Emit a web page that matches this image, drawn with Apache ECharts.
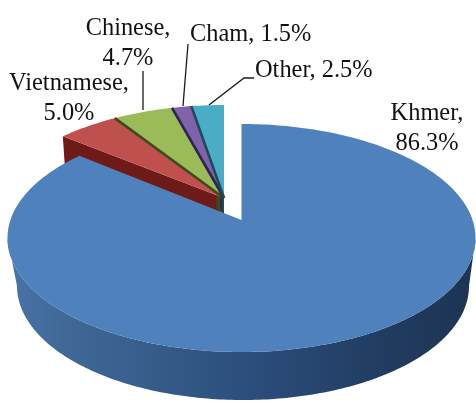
<!DOCTYPE html>
<html><head><meta charset="utf-8">
<style>html,body{margin:0;padding:0;background:#fff}#c{width:476px;height:401px;filter:blur(0.45px)}</style>
<script src="https://cdn.jsdelivr.net/npm/echarts@6/dist/echarts.min.js"></script>
</head><body><div id="c"></div>
<script>
const categories = ['Khmer', 'Vietnamese', 'Chinese', 'Cham', 'Other'];
const shares = [86.3, 5.0, 4.7, 1.5, 2.5];
const topColors = ['#4f81bd', '#c0504d', '#9bbb59', '#7f62a8', '#4bacc6'];
const edgeColors = ['#2f5280', '#6e1a18', '#3f4a1c', '#2c2350', '#1d4a5e'];

const RX = 234, RY = 114, DEPTH = 30, APEX_DEPTH = 16, APEX_FRACTION = 0.07;
const bigPie = { cx: 241.5, cy: 238, ax: 241.5, ay: 220, tilt: 0.46 };
const smallPie = { cx: 224, cy: 219, ax: 224, ay: 198, tilt: 0.445 };
const rimBase = { cx: 243, cy: 286, rx: 226, ry: 114 };
const labelSpots = [
  { x: 427, y: 129, align: 'center' }, { x: 69, y: 99, align: 'center' },
  { x: 128, y: 44, align: 'center' }, { x: 190, y: 35, align: 'left', oneLine: true },
  { x: 255, y: 71, align: 'left', oneLine: true }
];
const leaders = [null, null,
  [[143, 110], [143, 71]],
  [[183, 106], [188, 44]],
  [[209, 105], [244, 78], [254, 78]]
];

// Where the ray from the wedge apex, at pie angle deg, meets the rim ellipse.
function rimAngle(p, deg) {
  const a = deg * Math.PI / 180;
  const dx = Math.sin(a), dy = -p.tilt * Math.cos(a);
  const ox = (p.ax - p.cx) / RX, oy = (p.ay - p.cy) / RY;
  const ux = dx / RX, uy = dy / RY;
  const A = ux * ux + uy * uy, B = 2 * (ox * ux + oy * uy), C = ox * ox + oy * oy - 1;
  const t = (-B + Math.sqrt(B * B - 4 * A * C)) / (2 * A);
  let phi = Math.atan2(ox + ux * t, -(oy + uy * t)) * 180 / Math.PI;
  if (phi < 0) phi += 360;
  return phi;
}
function rimPoint(p, phi) {
  const a = phi * Math.PI / 180;
  return [p.cx + RX * Math.sin(a), p.cy - RY * Math.cos(a)];
}
function arc(p, from, to) {
  const pts = [];
  for (let f = from; f < to; f += 1) pts.push(rimPoint(p, f));
  pts.push(rimPoint(p, to));
  return pts;
}

const total = shares.reduce((a, b) => a + b, 0);
function renderSlice(params, api) {
  const i = params.dataIndex;
  const before = shares.slice(0, i).reduce((a, b) => a + b, 0);
  const start = before / total * 360, end = (before + api.value(0)) / total * 360;
  const children = [];
  const p = i === 0 ? bigPie : smallPie;
  const f0 = start === 0 ? 0 : rimAngle(p, start);
  const f1 = end >= 359.999 ? 360 : rimAngle(p, end);
  const top = [[p.ax, p.ay]].concat(arc(p, f0, f1));

  if (i === 0) {
    const wall = arc(p, 90, 270);
    const base = [];
    for (let f = 270; f >= 90; f -= 1) {
      const a = f * Math.PI / 180;
      base.push([rimBase.cx + rimBase.rx * Math.sin(a), rimBase.cy - rimBase.ry * Math.cos(a)]);
    }
    children.push({
      type: 'polygon', z2: 20, shape: { points: wall.concat(base) },
      style: { fill: new echarts.graphic.LinearGradient(0, 0, 1, 0, [
        { offset: 0, color: '#4874a9' }, { offset: 0.12, color: '#406997' },
        { offset: 0.5, color: '#2c4f7d' }, { offset: 0.78, color: '#223d63' },
        { offset: 1, color: '#1d3452' }]) }
    });
    children.push({ type: 'polygon', z2: 21, shape: { points: top }, style: { fill: topColors[0] } });
  } else {
    const outer = rimPoint(p, f0);
    if (i === 1) {
      children.push({
        type: 'polygon', z2: 1,
        shape: { points: [outer, [p.ax, p.ay], [p.ax, p.ay + DEPTH], [outer[0] + 2, outer[1] + DEPTH]] },
        style: { fill: edgeColors[i] }
      });
    } else {
      const near = [p.ax + (outer[0] - p.ax) * APEX_FRACTION, p.ay + (outer[1] - p.ay) * APEX_FRACTION];
      children.push({
        type: 'polygon', z2: 2 + i,
        shape: { points: [near, [p.ax, p.ay], [p.ax, p.ay + APEX_DEPTH], [near[0], near[1] + APEX_DEPTH]] },
        style: { fill: edgeColors[i] }
      });
    }
    children.push({ type: 'polygon', z2: 10 + i, shape: { points: top }, style: { fill: topColors[i] } });
    if (i > 1) {
      children.push({
        type: 'line', z2: 16,
        shape: { x1: outer[0], y1: outer[1], x2: p.ax, y2: p.ay },
        style: { stroke: edgeColors[i], lineWidth: 2.6 }
      });
    }
  }
  if (leaders[i]) {
    children.push({
      type: 'polyline', z2: 30, shape: { points: leaders[i] },
      style: { stroke: '#1a1a1a', lineWidth: 1.3, fill: null }
    });
  }
  const spot = labelSpots[i];
  children.push({
    type: 'text', z2: 40, x: spot.x, y: spot.y,
    style: {
      text: categories[i] + (spot.oneLine ? ', ' : ',\n') + api.value(0).toFixed(1) + '%',
      fontFamily: '"Liberation Serif", serif', fontSize: 24.4, lineHeight: 30,
      fill: '#111111', align: spot.align, verticalAlign: 'middle'
    }
  });
  return { type: 'group', children };
}

const chart = echarts.init(document.getElementById('c'), null, { renderer: 'canvas' });
chart.setOption({
  backgroundColor: '#ffffff',
  animation: false,
  series: [{
    type: 'custom',
    coordinateSystem: 'none',
    renderItem: renderSlice,
    data: shares.map((v, i) => ({ name: categories[i], value: [v] }))
  }]
});
</script></body></html>
